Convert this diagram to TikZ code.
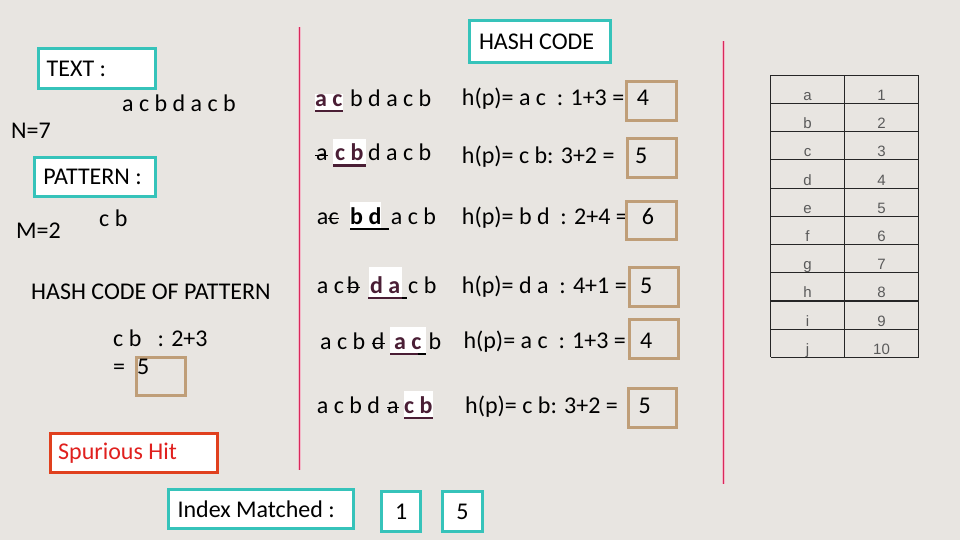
\documentclass[tikz,border=0pt]{standalone}
\usepackage{fontspec}
\setmainfont{Carlito}
\newfontfamily\tablefont{Liberation Sans}

\definecolor{slidebg}{HTML}{E8E5E1}
\definecolor{tealline}{HTML}{36C3BA}
\definecolor{tanline}{HTML}{BF9E78}
\definecolor{hitred}{HTML}{E0401E}
\definecolor{hittext}{HTML}{E0201E}
\definecolor{plum}{HTML}{4A1E35}
\definecolor{dividerred}{HTML}{D8285A}
\definecolor{dividerglow}{HTML}{F2B8C8}
\definecolor{tablegray}{HTML}{5A5A5A}

\begin{document}
\begin{tikzpicture}[x=1pt,y=-1pt,
  every node/.style={font=\fontsize{24}{28}\selectfont},
  txt/.style={anchor=base west, inner sep=0pt},
  lbl/.style={anchor=west, inner sep=0pt},
  tealbox/.style={draw=tealline, line width=3pt, fill=white, anchor=north west, inner sep=0pt},
  tanbox/.style={draw=tanline, line width=3pt, anchor=north west, inner sep=0pt},
  hitbox/.style={draw=hitred, line width=3pt, fill=white, anchor=north west, inner sep=0pt},
  hlbox/.style={anchor=base west, inner sep=0pt, fill=white, text depth=5.7pt,
    text height=22pt, font=\fontsize{24}{28}\selectfont\bfseries, text=plum},
  uline/.style={line width=2.5pt, plum},
  strikebar/.style={line width=1.3pt, black},
  tablerule/.style={line width=1.2pt, black!85},
  cell/.style={anchor=base, inner sep=0pt, text=tablegray,
    font=\tablefont\fontsize{15}{17}\selectfont}]

% page and background
\useasboundingbox (0,0) rectangle (960,540);
\fill[slidebg] (0,0) rectangle (960,540);

% column dividers: a soft pink halo under a crimson hairline
\fill[dividerglow] (298,26.7) rectangle (300.6,470);
\fill[dividerred] (298.7,26.7) rectangle (299.9,470);
\fill[dividerglow] (722,41) rectangle (724.6,484);
\fill[dividerred] (722.7,41) rectangle (723.9,484);

% ---------- left column ----------
\node[tealbox, minimum width=117pt, minimum height=40pt] (textbox) at (37,47) {};
\node[lbl] (textlbl) at ([xshift=9.5pt]textbox.west) {TEXT :};
\node[txt] (textstr) at (122,111.7) {a c b d a c b};
\node[txt] (nval) at (11,139) {N=7};
\node[tealbox, minimum width=121pt, minimum height=39pt] (patbox) at (32.7,156) {};
\node[lbl] (patlbl) at ([xshift=10.5pt]patbox.west) {PATTERN :};
\node[txt] (patstr) at (99,226.7) {c b};
\node[txt] (mval) at (16,238) {M=2};
\node[txt] (hcp) at (31,299) {HASH CODE OF PATTERN};
\node[txt] (hcpsum) at (113,346) {c b \ \ : 2+3};
\node[txt] (hcpeq) at (113,374) {=};
\node[tanbox, minimum width=49pt, minimum height=38.3pt] (hcpbox) at (135,355.7) {};
\node[txt] (hcpval) at (137,374) {5};
\node[hitbox, minimum width=167pt, minimum height=39pt] (hitbox) at (49,431.7) {};
\node[lbl, text=hittext] (hitlbl) at ([xshift=9pt]hitbox.west) {Spurious Hit};
\node[tealbox, minimum width=184.7pt, minimum height=39pt] (idxbox) at (167.3,488.3) {};
\node[lbl] (idxlbl) at ([xshift=10pt]idxbox.west) {Index Matched :};
\node[tealbox, minimum width=39.3pt, minimum height=40pt] (idx1) at (380,490) {1};
\node[tealbox, minimum width=40.3pt, minimum height=40pt] (idx5) at (440.7,490) {5};

% ---------- middle column ----------
\node[tealbox, minimum width=141pt, minimum height=41.4pt] (hashcode) at (468.3,19.3) {};
\node[lbl] (hashlbl) at ([xshift=10.5pt]hashcode.west) {HASH CODE};

% window 1
\node[hlbox, text height=12pt] (w1hl) at (315,106.5) {a c};
\draw[uline] ([yshift=1.3pt]w1hl.south west) -- ([yshift=1.3pt]w1hl.south east);
\node[txt] (w1post) at (350,106.5) {b d a c b};
\node[txt] (w1h) at (461.7,106) {h(p)= a c \ : 1+3 =};
\node[tanbox, minimum width=50pt, minimum height=39pt] (w1box) at (625,80) {};
\node[txt] (w1val) at (636.7,106) {4};

% window 2
\node[txt] (w2s) at (316,160.7) {a};
\draw[strikebar] ([yshift=5.5pt,xshift=-1pt]w2s.base west) -- ([yshift=5.5pt]w2s.base east);
\node[hlbox, inner xsep=2pt] (w2hl) at (333,160.7) {c b};
\draw[uline] ([yshift=1.3pt]w2hl.south west) -- ([yshift=1.3pt]w2hl.south east);
\node[txt] (w2post) at (368,160.7) {d a c b};
\node[txt] (w2h) at (461.7,164) {h(p)= c b: 3+2 =};
\node[tanbox, minimum width=49pt, minimum height=39.3pt] (w2box) at (626,136.7) {};
\node[txt] (w2val) at (635,164) {5};

% window 3
\node[txt] (w3pre) at (316.7,224.3) {a};
\node[txt] (w3s) at (328.3,224.3) {c};
\draw[strikebar] ([yshift=5.5pt]w3s.base west) -- ([yshift=5.5pt]w3s.base east);
\node[hlbox, text=black] (w3hl) at (350,224.3) {b d};
\draw[uline, black] ([yshift=1.3pt]w3hl.south west) -- ([yshift=1.3pt,xshift=7.6pt]w3hl.south east);
\node[txt] (w3post) at (390.7,224.3) {a c b};
\node[txt] (w3h) at (461.7,224.7) {h(p)= b d \ : 2+4 =};
\node[tanbox, minimum width=50pt, minimum height=38.3pt] (w3box) at (625,200) {};
\node[txt] (w3val) at (641.7,224.7) {6};

% window 4
\node[txt] (w4pre) at (316.7,293.3) {a c};
\node[txt] (w4s) at (346.7,293.3) {b};
\draw[strikebar] ([yshift=5.5pt]w4s.base west) -- ([yshift=5.5pt]w4s.base east);
\node[hlbox, text height=26pt, inner xsep=1.5pt] (w4hl) at (368.3,293.3) {d a};
\draw[uline] ([yshift=1.3pt]w4hl.south west) -- ([yshift=1.3pt]w4hl.south east);
\draw[uline, black] ([yshift=1.3pt]w4hl.south east) -- ([yshift=1.3pt,xshift=5pt]w4hl.south east);
\node[txt] (w4post) at (408,293.3) {c b};
\node[txt] (w4h) at (461.7,293.3) {h(p)= d a \ : 4+1 =};
\node[tanbox, minimum width=48.4pt, minimum height=39pt] (w4box) at (628.3,266) {};
\node[txt] (w4val) at (640,293.3) {5};

% window 5
\node[txt] (w5pre) at (320,349.3) {a c b};
\node[txt] (w5s) at (371.7,349.3) {d};
\draw[strikebar] ([yshift=5.5pt]w5s.base west) -- ([yshift=5.5pt]w5s.base east);
\node[hlbox, inner xsep=4pt] (w5hl) at (390,349.3) {a c};
\draw[uline] ([yshift=1.3pt]w5hl.south west) -- ([yshift=1.3pt,xshift=-8pt]w5hl.south east);
\draw[uline, black] ([yshift=1.3pt,xshift=-8pt]w5hl.south east) -- ([yshift=1.3pt]w5hl.south east);
\node[txt] (w5post) at (428.3,349.3) {b};
\node[txt] (w5h) at (463.3,348.5) {h(p)= a c \ : 1+3 =};
\node[tanbox, minimum width=48.4pt, minimum height=38.4pt] (w5box) at (628.3,318.3) {};
\node[txt] (w5val) at (640,348.5) {4};

% window 6
\node[txt] (w6pre) at (316.7,413.3) {a c b d};
\node[txt] (w6s) at (387,413.3) {a};
\draw[strikebar] ([yshift=5.5pt]w6s.base west) -- ([yshift=5.5pt]w6s.base east);
\node[hlbox] (w6hl) at (404,413.3) {c b};
\draw[uline] ([yshift=1.3pt]w6hl.south west) -- ([yshift=1.3pt]w6hl.south east);
\node[txt] (w6h) at (465,413.3) {h(p)= c b: 3+2 =};
\node[tanbox, minimum width=47.7pt, minimum height=38.7pt] (w6box) at (627.3,387.3) {};
\node[txt] (w6val) at (638.3,413.3) {5};

% ---------- character value table ----------
\foreach \i in {0,...,10}
  \draw[tablerule] (770.7,75.3+28.2*\i) -- (918.7,75.3+28.2*\i);
\draw[tablerule] (770.7,75.3) -- (770.7,357.3);
\draw[tablerule] (844.3,75.3) -- (844.3,357.3);
\draw[tablerule] (918.7,75.3) -- (918.7,357.3);
\foreach \ch [count=\n] in {a,b,c,d,e,f,g,h,i,j} {
  \node[cell] (key\n) at (807.5,75.3+28.2*\n-3) {\ch};
  \node[cell] (val\n) at (881.5,75.3+28.2*\n-3) {\n};
}
\end{tikzpicture}
\end{document}
